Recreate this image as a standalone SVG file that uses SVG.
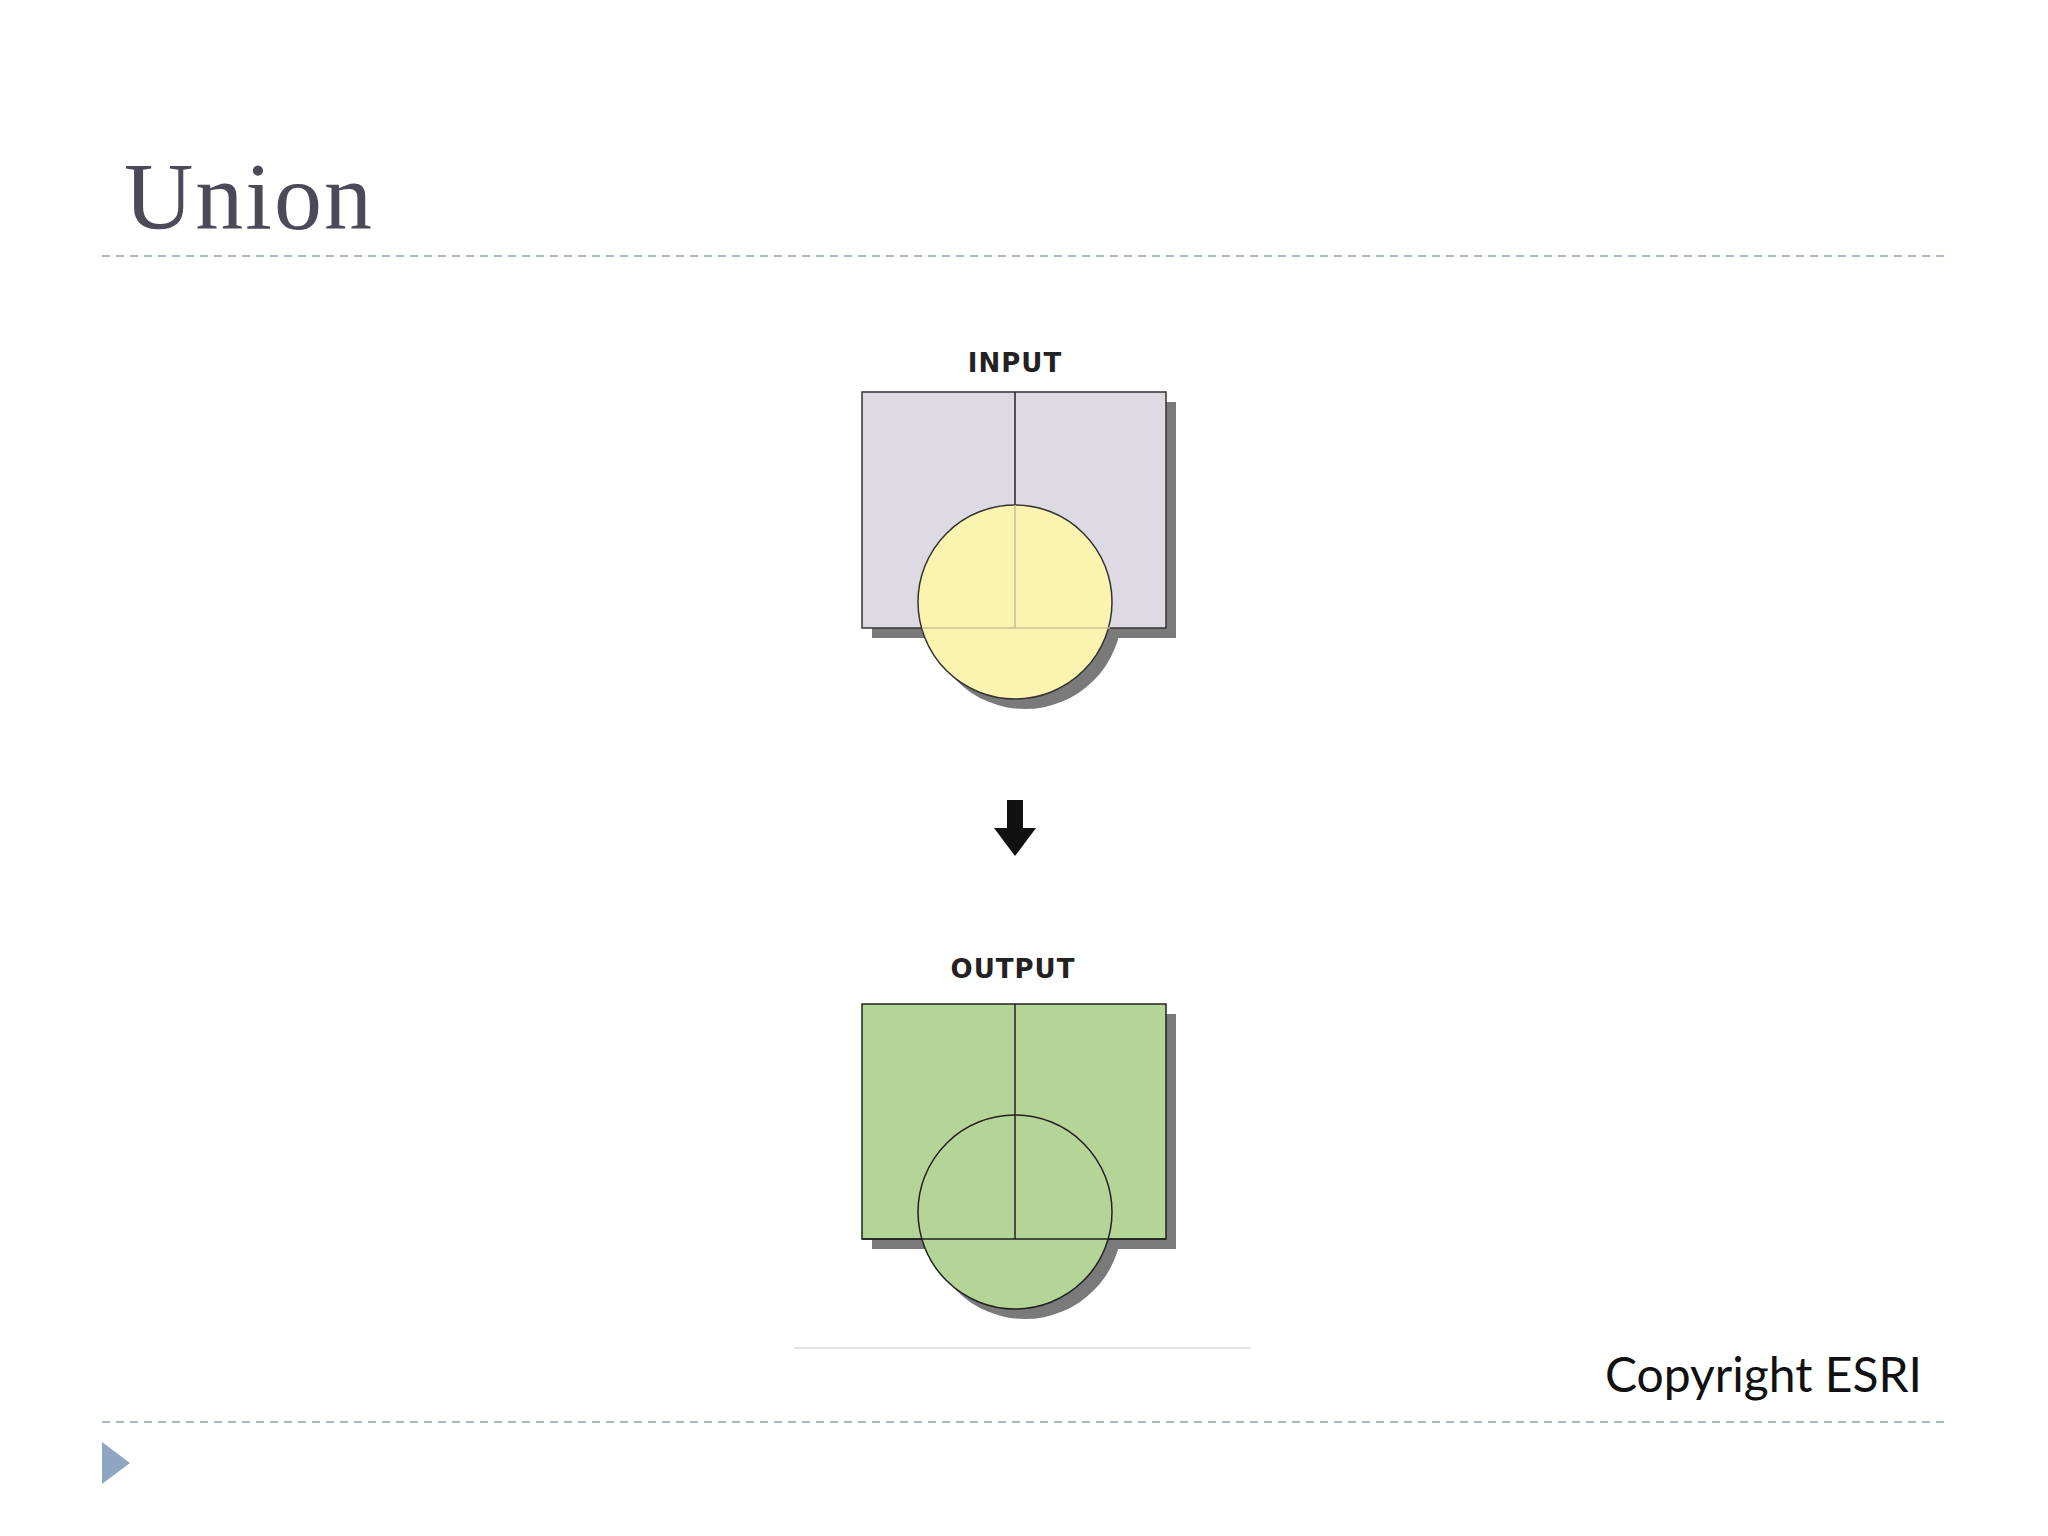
<svg xmlns="http://www.w3.org/2000/svg" width="2048" height="1536" viewBox="0 0 2048 1536">
<style>
.dash{stroke:#a9b8c8;stroke-width:2;stroke-dasharray:8,6;fill:none}
.lbl{font-family:"DejaVu Sans",sans-serif;font-weight:bold;font-size:26px;fill:#222;text-anchor:middle;letter-spacing:1px}
.sh{fill:#7a7a7a}
.edge{stroke:#222;stroke-width:1.5}
</style>
<rect width="2048" height="1536" fill="#fff"/>
<text x="124" y="229" font-family="Liberation Serif, serif" font-size="96" fill="#4a4a58" letter-spacing="2">Union</text>
<line class="dash" x1="102" y1="256" x2="1946" y2="256"/>
<line class="dash" x1="102" y1="1422" x2="1946" y2="1422"/>
<polygon points="102,1442 130,1463 102,1484" fill="#8fa6c2"/>
<text x="1922" y="1392" font-family="Lato, sans-serif" font-size="48" fill="#111" text-anchor="end">Copyright ESRI</text>
<g id="input">
<text class="lbl" x="1015" y="372">INPUT</text>
<rect class="sh" x="872" y="402" width="304" height="236"/>
<circle class="sh" cx="1025" cy="612" r="97"/>
<rect x="862" y="392" width="304" height="236" fill="#dedae3" stroke="#333" stroke-width="1.5"/>
<line class="edge" x1="1015" y1="392" x2="1015" y2="505"/>
<circle cx="1015" cy="602" r="97" fill="#fbf3b0" stroke="#333" stroke-width="1.5"/>
<line x1="1015" y1="505" x2="1015" y2="628" stroke="#c8c090" stroke-width="1.5"/>
<line x1="922" y1="628" x2="1110" y2="628" stroke="#c8c090" stroke-width="1.5"/>
</g>
<g id="connectors">
<polygon points="1007,800 1023,800 1023,828 1036,828 1015,856 994,828 1007,828" fill="#111"/>
</g>
<g id="output">
<text class="lbl" x="1013" y="978">OUTPUT</text>
<rect class="sh" x="872" y="1014" width="304" height="235"/>
<circle class="sh" cx="1025" cy="1222" r="97"/>
<rect x="862" y="1004" width="304" height="235" fill="#b5d497" stroke="#222" stroke-width="1.5"/>
<circle cx="1015" cy="1212" r="97" fill="#b5d497" stroke="#222" stroke-width="1.5"/>
<line class="edge" x1="1015" y1="1004" x2="1015" y2="1239"/>
<line class="edge" x1="862" y1="1239" x2="1166" y2="1239"/>
</g>
<line x1="794" y1="1348" x2="1251" y2="1348" stroke="#e4e4e4" stroke-width="2"/>
</svg>
